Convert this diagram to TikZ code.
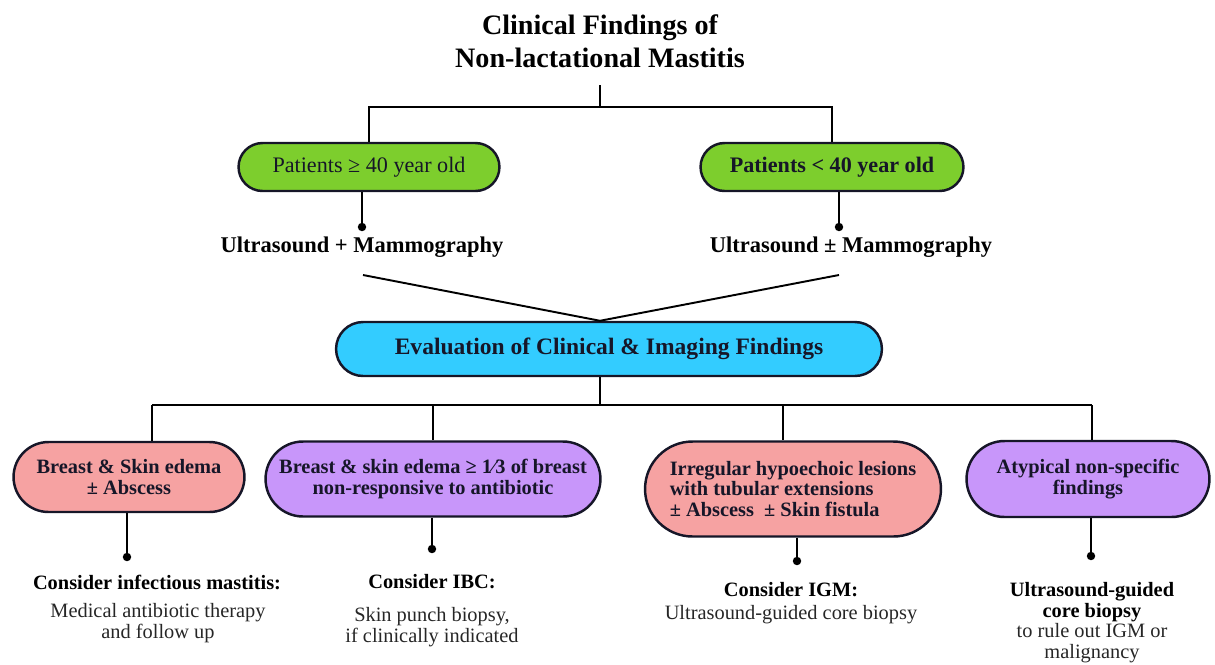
\documentclass[tikz,border=0pt]{standalone}
\usepackage{fontspec}
\setmainfont{Liberation Serif}[BoldFont={Liberation Serif Bold},ItalicFont={Liberation Serif Italic}]
\usepackage{xcolor}
\usetikzlibrary{positioning,shapes.misc}

\definecolor{grn}{RGB}{125,206,45}
\definecolor{cyn}{RGB}{51,204,255}
\definecolor{rse}{RGB}{246,162,162}
\definecolor{lil}{RGB}{200,150,250}
\definecolor{ink}{RGB}{22,22,40}

\begin{document}
\begin{tikzpicture}[
  x=0.02cm,y=-0.02cm,
  line width=1.1pt,
  pill/.style={draw=ink,line width=1.4pt,rounded rectangle,inner sep=2pt,align=center,text=ink},
  topbox/.style={pill,fill=grn,minimum height=0.96cm,font=\fontsize{12.6}{14}\selectfont},
  evbox/.style={pill,fill=cyn,minimum height=1.08cm,font=\fontsize{13.4}{15}\selectfont\bfseries},
  findbox/.style={pill,minimum height=1.5cm,font=\fontsize{11.6}{11.6}\selectfont\bfseries},
  hd/.style={font=\fontsize{11.6}{12}\selectfont\bfseries,align=center,inner sep=0pt},
  txt/.style={font=\fontsize{11.6}{12}\selectfont,align=center,inner sep=0pt,text=black!85},
  dot/.style={fill=black}]
  \useasboundingbox (0,0) rectangle (1215,664);
  % title
  \node[font=\fontsize{16}{18.8}\selectfont\bfseries,align=center] (title) at (600,41)
    {Clinical Findings of\\Non-lactational Mastitis};
  \coordinate (t0) at (600,85);
  \coordinate (t1) at (600,107);
  % age groups
  \node[topbox,minimum width=5.36cm] (old) at (369,167) {Patients ≥ 40 year old};
  \node[topbox,minimum width=5.4cm,font=\fontsize{12.6}{14}\selectfont\bfseries] (young) at (832,167) {Patients < 40 year old};
  \coordinate (d1) at (362,227);
  \coordinate (d2) at (839,227);
  \node[font=\fontsize{12.8}{14}\selectfont\bfseries] (img1) at (362,247) {Ultrasound + Mammography};
  \node[font=\fontsize{12.8}{14}\selectfont\bfseries] (img2) at (851,247) {Ultrasound ± Mammography};
  \coordinate (c1) at (363,275);
  \coordinate (c2) at (839,275);
  % evaluation
  \node[evbox,minimum width=11.06cm] (eval) at (609,349) {Evaluation of Clinical \& Imaging Findings};
  \coordinate (ap) at (eval.north -| t0);
  \coordinate (b0) at (600,405);
  \coordinate (j1) at (152,405);
  \coordinate (j2) at (433,405);
  \coordinate (j3) at (783,405);
  \coordinate (j4) at (1092,405);
  % findings
  \node[findbox,fill=rse,minimum width=4.76cm,minimum height=1.4cm] (f1) at (129,477)
    {Breast \& Skin edema\\± Abscess};
  \node[findbox,fill=lil,minimum width=6.84cm] (f2) at (433,479)
    {Breast \& skin edema ≥ 1⁄3 of breast\\non-responsive to antibiotic};
  \node[findbox,fill=rse,minimum width=6.06cm,minimum height=1.9cm,align=left] (f3) at (793,489)
    {Irregular hypoechoic lesions\\with tubular extensions\\± Abscess\ \ ± Skin fistula};
  \node[findbox,fill=lil,minimum width=5.0cm,minimum height=1.52cm] (f4) at (1088,479)
    {Atypical non-specific\\findings};
  \coordinate (d3) at (127,557);
  \coordinate (d4) at (432,549);
  \coordinate (d5) at (797,561);
  \coordinate (d6) at (1091,556);
  % recommendations
  \node[hd] (r1) at (157,582) {Consider infectious mastitis:};
  \node[txt] (s1) at (158,623) {Medical antibiotic therapy\\and follow up};
  \node[hd] (r2) at (432,582) {Consider IBC:};
  \node[txt] (s2) at (432,627) {Skin punch biopsy,\\if clinically indicated};
  \node[hd] (r3) at (791,590) {Consider IGM:};
  \node[txt] (s3) at (791,615) {Ultrasound-guided core biopsy};
  \node[hd] (r4) at (1092,602) {Ultrasound-guided\\core biopsy};
  \node[txt] (s4) at (1092,643) {to rule out IGM or\\malignancy};
  % connectors
  \draw (t0) -- (t1);
  \draw (old.north) |- (t1) -| (young.north);
  \draw (old.south -| d1) -- (d1);
  \draw (young.south -| d2) -- (d2);
  \draw (c1) -- (ap) -- (c2);
  \draw (eval.south -| b0) -- (b0);
  \draw (j1) -- (j4);
  \draw (j1) -- (j1 |- f1.north);
  \draw (j2) -- (j2 |- f2.north);
  \draw (j3) -- (j3 |- f3.north);
  \draw (j4) -- (j4 |- f4.north);
  \draw (f1.south -| d3) -- (d3);
  \draw (f2.south -| d4) -- (d4);
  \draw (f3.south -| d5) -- (d5);
  \draw (f4.south -| d6) -- (d6);
  \foreach \d in {d1,d2,d3,d4,d5,d6}
    \fill[dot] (\d) circle (2.4pt);
\end{tikzpicture}
\end{document}
